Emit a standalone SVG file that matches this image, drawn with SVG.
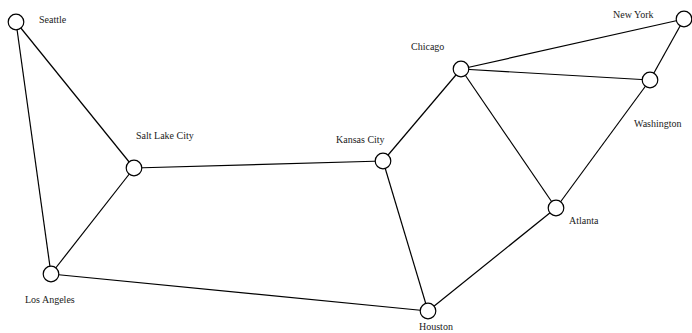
<svg xmlns="http://www.w3.org/2000/svg" width="692" height="333" viewBox="0 0 692 333">
<style>
.n circle{fill:#fff;stroke:#000;stroke-width:1.2}
.e line{stroke:#000;stroke-width:1.2}
text{font-family:"Liberation Serif","Times New Roman",serif;font-size:10px;fill:#222}
</style>
<rect width="692" height="333" fill="#fff"/>
<g id="edges" class="e">
<line x1="16" y1="22" x2="51" y2="274"/>
<line x1="16" y1="22" x2="134" y2="168"/>
<line x1="134" y1="168" x2="51" y2="274"/>
<line x1="134" y1="168" x2="383" y2="161"/>
<line x1="51" y1="274" x2="428" y2="311"/>
<line x1="383" y1="161" x2="461" y2="69"/>
<line x1="383" y1="161" x2="428" y2="311"/>
<line x1="461" y1="69" x2="684" y2="19"/>
<line x1="461" y1="69" x2="650" y2="80"/>
<line x1="461" y1="69" x2="556" y2="208"/>
<line x1="684" y1="19" x2="650" y2="80"/>
<line x1="650" y1="80" x2="556" y2="208"/>
<line x1="556" y1="208" x2="428" y2="311"/>
</g>
<g id="seattle" class="n"><circle cx="16" cy="22" r="7.8"/><text x="39" y="23">Seattle</text></g>
<g id="saltlakecity" class="n"><circle cx="134" cy="168" r="7.8"/><text x="136" y="139">Salt Lake City</text></g>
<g id="losangeles" class="n"><circle cx="51" cy="274" r="7.8"/><text x="25" y="303">Los Angeles</text></g>
<g id="kansascity" class="n"><circle cx="383" cy="161" r="7.8"/><text x="336" y="143">Kansas City</text></g>
<g id="chicago" class="n"><circle cx="461" cy="69" r="7.8"/><text x="411" y="50">Chicago</text></g>
<g id="newyork" class="n"><circle cx="684" cy="19" r="7.8"/><text x="613" y="18">New York</text></g>
<g id="washington" class="n"><circle cx="650" cy="80" r="7.8"/><text x="634" y="127">Washington</text></g>
<g id="atlanta" class="n"><circle cx="556" cy="208" r="7.8"/><text x="569" y="224">Atlanta</text></g>
<g id="houston" class="n"><circle cx="428" cy="311" r="7.8"/><text x="419" y="330">Houston</text></g>
</svg>
